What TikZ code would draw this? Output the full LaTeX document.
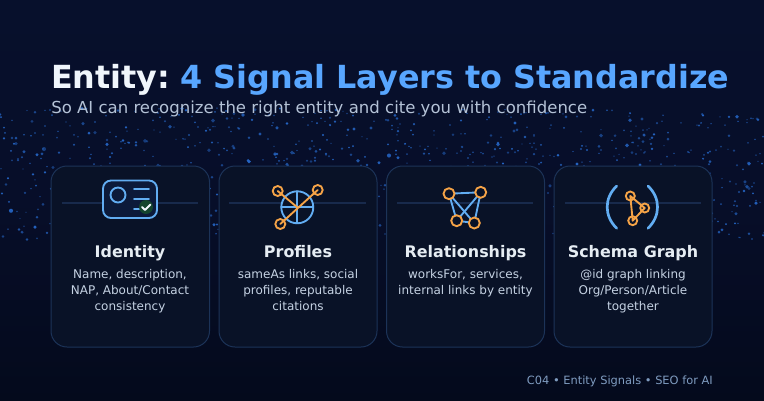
\documentclass[tikz,border=0pt]{standalone}
\usepackage{fontspec}
\setmainfont{DejaVu Sans}
\definecolor{bgtop}{HTML}{07102C}
\definecolor{bgmid}{HTML}{070E29}
\definecolor{bgbot}{HTML}{040A1C}
\definecolor{cardfill}{HTML}{091227}
\definecolor{cardline}{HTML}{1C3358}
\definecolor{divline}{HTML}{182A4C}
\definecolor{iconfill}{HTML}{0C1A3A}
\definecolor{bluei}{HTML}{62ADF2}
\definecolor{orangei}{HTML}{F5A347}
\definecolor{titleblue}{HTML}{58A6FF}
\definecolor{titlewhite}{HTML}{F0F6FC}
\definecolor{cardtitlec}{HTML}{E6EDF3}
\definecolor{subc}{HTML}{B4C2D6}
\definecolor{bodyc}{HTML}{C5D2E3}
\definecolor{footc}{HTML}{7F9CC0}
\definecolor{dotc}{HTML}{2565C4}
\definecolor{badge}{HTML}{14452E}
\tikzset{
  x=0.75pt,y=-0.75pt,
  card/.style={draw=cardline,fill=cardfill,line width=0.75pt,rounded corners=12pt},
  divider/.style={draw=divline,line width=1pt},
  blueline/.style={draw=bluei,line width=1.4pt,line cap=round},
  orangeline/.style={draw=orangei,line width=1.4pt,line cap=round},
  cardtitle/.style={anchor=base,text=cardtitlec,font=\fontsize{11.95}{14}\selectfont\bfseries,inner sep=0pt},
  cardbody/.style={anchor=base,text=bodyc,font=\fontsize{9.0}{11}\selectfont,inner sep=0pt},
}
\begin{document}
\begin{tikzpicture}
\useasboundingbox (0,0) rectangle (764,400);
\shade[top color=bgtop,bottom color=bgbot,middle color=bgmid] (0,0) rectangle (764,400);
% star dust band
\pgfmathsetseed{4242}
\begin{scope}
\clip (0,106) rectangle (764,250);
\foreach \i in {1,...,1000}{
  \pgfmathsetmacro{\px}{random(0,764)}
  \pgfmathsetmacro{\py}{108+ rnd*132}
  \pgfmathsetmacro{\pr}{0.7+1.5*rnd*rnd}
  \pgfmathsetmacro{\po}{0.5+0.5*rnd}
  \fill[dotc,opacity=\po] (\px,\py) circle[radius=\pr];
}
\end{scope}
% title
\node[anchor=base west,inner sep=0pt,text=titlewhite,font=\fontsize{23.85}{28}\selectfont\bfseries] (title) at (51,88) {Entity:};
\node[anchor=base west,inner sep=0pt,text=titleblue,font=\fontsize{23.85}{28}\selectfont\bfseries] (title2) at (180.5,88) {4 Signal Layers to Standardize};
\node[anchor=base west,inner sep=0pt,text=subc,font=\fontsize{12.4}{15}\selectfont] (sub) at (51,113) {So AI can recognize the right entity and cite you with confidence};
% cards
\draw[card] (51,166) rectangle (209.5,347);
\draw[card] (219,166) rectangle (377,347);
\draw[card] (386.5,166) rectangle (544.5,347);
\draw[card] (554,166) rectangle (712,347);
\draw[divider] (62,203) -- (198,203);
\draw[divider] (229,203) -- (366,203);
\draw[divider] (397,203) -- (533,203);
\draw[divider] (565,203) -- (701,203);
% identity icon
\draw[blueline,fill=iconfill,rounded corners=6pt] (103,180.5) rectangle (157,218);
\draw[blueline] (118,195) circle[radius=7.5];
\draw[blueline] (134,189) -- (149,189);
\draw[blueline] (134,199) -- (149,199);
\draw[blueline] (134,209) -- (140,209);
\fill[badge] (146,207) circle[radius=7];
\draw[draw=titlewhite,line width=1.5pt,line cap=round,line join=round] (142,207) -- (145,210) -- (150.5,204.5);
% profiles icon
\fill[cardfill] (297.3,207.3) circle[radius=16];
\draw[blueline] (297.3,207.3) circle[radius=16];
\draw[blueline] (281.3,207.3) -- (313.3,207.3);
\draw[blueline] (297.3,191.3) -- (297.3,223.3);
\draw[orangeline] (277.7,191) -- (297.3,207.3);
\draw[orangeline] (317.7,190) -- (280.3,224);
\draw[orangeline] (277.7,191) circle[radius=5];
\draw[orangeline] (317.7,190) circle[radius=5];
\draw[orangeline] (280.3,224) circle[radius=5];
% relationships icon
\draw[blueline] (449,193.7) -- (480.7,192.3);
\draw[blueline] (449,193.7) -- (456.7,220.7);
\draw[blueline] (449,193.7) -- (474.3,223);
\draw[blueline] (480.7,192.3) -- (456.7,220.7);
\draw[blueline] (480.7,192.3) -- (474.3,223);
\draw[blueline] (456.7,220.7) -- (474.3,223);
\foreach \p in {(449,193.7),(480.7,192.3),(456.7,220.7),(474.3,223)}{
  \draw[orangeline,fill=cardfill] \p circle[radius=5.5];
}
% schema icon
\draw[blueline,line width=2pt] (616.7,186) .. controls (604,198) and (604,216) .. (616.7,228.3);
\draw[blueline,line width=2pt] (648,186) .. controls (660.7,198) and (660.7,216) .. (648,228.3);
\draw[orangeline,line join=round] (630.3,196) -- (644.7,208) -- (632.7,220.7) -- cycle;
\draw[orangeline] (630.3,196) circle[radius=4.5];
\draw[orangeline] (644.7,208) circle[radius=4.5];
\draw[orangeline] (632.7,220.7) circle[radius=4.5];
% card text
\node[cardtitle] (t1) at (130,257) {Identity};
\node[cardbody] (a1) at (130,278) {Name, description,};
\node[cardbody] (a2) at (130,294) {NAP, About/Contact};
\node[cardbody] (a3) at (130,310) {consistency};
\node[cardtitle] (t2) at (298,257) {Profiles};
\node[cardbody] (b1) at (298,278) {sameAs links, social};
\node[cardbody] (b2) at (298,294) {profiles, reputable};
\node[cardbody] (b3) at (298,310) {citations};
\node[cardtitle] (t3) at (465.5,257) {Relationships};
\node[cardbody] (c1) at (465.5,278) {worksFor, services,};
\node[cardbody] (c2) at (465.5,294) {internal links by entity};
\node[cardtitle] (t4) at (633,257) {Schema Graph};
\node[cardbody] (d1) at (633,278) {@id graph linking};
\node[cardbody] (d2) at (633,294) {Org/Person/Article};
\node[cardbody] (d3) at (633,310) {together};
\node[anchor=base east,inner sep=0pt,text=footc,font=\fontsize{8.55}{10}\selectfont] (foot) at (713,384) {C04 • Entity Signals • SEO for AI};
\end{tikzpicture}
\end{document}
